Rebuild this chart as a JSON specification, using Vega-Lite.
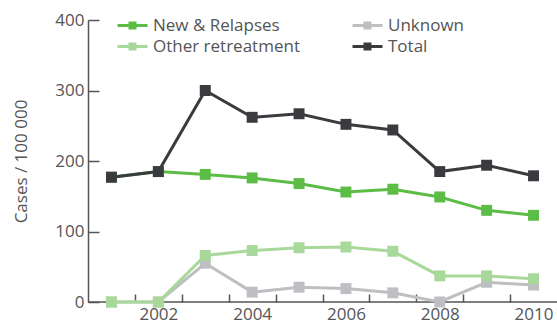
{
  "$schema": "https://vega.github.io/schema/vega-lite/v6.json",
  "width": 469,
  "height": 282,
  "autosize": {"type": "none"},
  "padding": {"left": 88, "top": 20, "right": 0, "bottom": 20},
  "config": {
    "view": {"stroke": null},
    "font": "Open Sans",
    "axis": {"grid": false, "domainColor": "#555", "tickColor": "#555", "labelColor": "#555", "titleColor": "#555", "labelFont": "Open Sans", "titleFont": "Open Sans"}
  },
  "data": {"values": [
    {"year": 2001, "series": "Unknown", "value": 0},
    {"year": 2002, "series": "Unknown", "value": 0},
    {"year": 2003, "series": "Unknown", "value": 55},
    {"year": 2004, "series": "Unknown", "value": 14},
    {"year": 2005, "series": "Unknown", "value": 21},
    {"year": 2006, "series": "Unknown", "value": 19},
    {"year": 2007, "series": "Unknown", "value": 13},
    {"year": 2008, "series": "Unknown", "value": 0},
    {"year": 2009, "series": "Unknown", "value": 28},
    {"year": 2010, "series": "Unknown", "value": 24},
    {"year": 2001, "series": "Other retreatment", "value": 0},
    {"year": 2002, "series": "Other retreatment", "value": 0},
    {"year": 2003, "series": "Other retreatment", "value": 66},
    {"year": 2004, "series": "Other retreatment", "value": 73},
    {"year": 2005, "series": "Other retreatment", "value": 77},
    {"year": 2006, "series": "Other retreatment", "value": 78},
    {"year": 2007, "series": "Other retreatment", "value": 72},
    {"year": 2008, "series": "Other retreatment", "value": 37},
    {"year": 2009, "series": "Other retreatment", "value": 37},
    {"year": 2010, "series": "Other retreatment", "value": 33},
    {"year": 2001, "series": "New & Relapses", "value": 177},
    {"year": 2002, "series": "New & Relapses", "value": 185},
    {"year": 2003, "series": "New & Relapses", "value": 181},
    {"year": 2004, "series": "New & Relapses", "value": 176},
    {"year": 2005, "series": "New & Relapses", "value": 168},
    {"year": 2006, "series": "New & Relapses", "value": 156},
    {"year": 2007, "series": "New & Relapses", "value": 160},
    {"year": 2008, "series": "New & Relapses", "value": 149},
    {"year": 2009, "series": "New & Relapses", "value": 130},
    {"year": 2010, "series": "New & Relapses", "value": 123},
    {"year": 2001, "series": "Total", "value": 177},
    {"year": 2002, "series": "Total", "value": 185},
    {"year": 2003, "series": "Total", "value": 300},
    {"year": 2004, "series": "Total", "value": 262},
    {"year": 2005, "series": "Total", "value": 267},
    {"year": 2006, "series": "Total", "value": 252},
    {"year": 2007, "series": "Total", "value": 244},
    {"year": 2008, "series": "Total", "value": 185},
    {"year": 2009, "series": "Total", "value": 194},
    {"year": 2010, "series": "Total", "value": 179}
  ]},
  "encoding": {
    "x": {"field": "year", "type": "quantitative", "scale": {"domain": [2000.5, 2010.5], "nice": false, "zero": false},
      "axis": {"values": [2001, 2001.5, 2002, 2002.5, 2003, 2003.5, 2004, 2004.5, 2005, 2005.5, 2006, 2006.5, 2007, 2007.5, 2008, 2008.5, 2009, 2009.5, 2010],
        "labelExpr": "datum.value % 2 == 0 ? datum.value : ''", "labelOverlap": false, "labelFontSize": 17, "labelPadding": 12, "labelFlush": false,
        "tickOpacity": {"condition": {"test": "datum.value % 1 == 0", "value": 0}, "value": 1},
        "title": null, "tickSize": -8, "tickWidth": 1.5, "domainWidth": 1.5, "domain": false}},
    "y": {"field": "value", "type": "quantitative", "scale": {"domain": [0, 400], "nice": false},
      "axis": {"values": [0, 100, 200, 300, 400], "title": "Cases / 100 000", "titleFontSize": 17, "titleFontWeight": "normal", "titlePadding": 24, "labelFontSize": 17, "labelPadding": 15, "tickSize": -11, "tickWidth": 1.5, "domainWidth": 1.5}},
    "color": {"field": "series", "type": "nominal",
      "scale": {"domain": ["New & Relapses", "Unknown", "Other retreatment", "Total"], "range": ["#5bbd45", "#bdbfc3", "#a8d89a", "#3a3b3f"]},
      "legend": {"title": null, "orient": "none", "legendX": 33, "legendY": -6, "columns": 2, "direction": "horizontal", "columnPadding": 46, "rowPadding": 1, "labelFontSize": 17, "labelColor": "#555", "labelOffset": 9, "symbolType": "M-1.5,0H1.5M-0.25,-0.25H0.25V0.25H-0.25Z", "symbolSize": 400, "symbolStrokeWidth": 3, "labelLimit": 300}
    }
  },
  "layer": [
    {"mark": {"type": "rule", "color": "#555", "strokeWidth": 1.5}, "data": {"values": [{"v": 0}]}, "encoding": {"y": {"field": "v", "type": "quantitative"}, "x": null, "color": null}},
    {"mark": {"type": "line", "strokeWidth": 3}},
    {"mark": {"type": "point", "shape": "square", "filled": true, "opacity": 1, "size": 120}}
  ]
}
